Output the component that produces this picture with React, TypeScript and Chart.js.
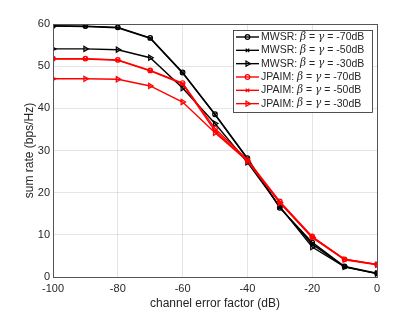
import React, { useEffect, useRef } from "react";
import { Chart, registerables } from "chart.js";
import { drawPoint } from "chart.js/helpers";

Chart.register(...registerables);

const errorFactor = [-100, -90, -80, -70, -60, -50, -40, -30, -20, -10, 0];
const mwsr70 = [59.6, 59.5, 59.2, 56.7, 48.5, 38.6, 28.2, 16.4, 8.2, 2.5, 0.9];
const mwsr50 = [59.5, 59.4, 59.1, 56.6, 48.4, 38.5, 28.0, 16.5, 7.8, 2.4, 0.8];
const mwsr30 = [54.1, 54.1, 53.9, 52.0, 44.8, 36.4, 27.2, 16.7, 7.1, 2.4, 0.8];
const jpaim70 = [51.8, 51.8, 51.5, 49.0, 46.0, 35.2, 27.8, 17.9, 9.6, 4.2, 3.0];
const jpaim50 = [51.7, 51.7, 51.4, 48.9, 45.8, 34.6, 27.6, 17.7, 9.4, 4.2, 3.0];
const jpaim30 = [47.0, 47.0, 46.9, 45.3, 41.5, 34.2, 27.5, 17.6, 9.4, 4.1, 2.9];
const xTicks = [-100, -80, -60, -40, -20, 0];
const yTicks = [0, 10, 20, 30, 40, 50, 60];

const seriesNames = ["MWSR", "MWSR", "MWSR", "JPAIM", "JPAIM", "JPAIM"];
const seriesLevels = ["-70dB", "-50dB", "-30dB", "-70dB", "-50dB", "-30dB"];

const AX = "#262626";
const FONT = "'Liberation Sans', Arial, sans-serif";

export default function App() {
  const ref = useRef<HTMLCanvasElement | null>(null);
  useEffect(() => {
    const canvas = ref.current!;
    const values = [mwsr70, mwsr50, mwsr30, jpaim70, jpaim50, jpaim30];
    const colors = ["#000000", "#000000", "#000000", "#ff0000", "#ff0000", "#ff0000"];
    const styles: any[] = ["circle", "crossRot", "triangle", "circle", "crossRot", "triangle"];
    const rot = [0, 0, 90, 0, 0, 90];
    const radius = [2.3, 2.5, 3, 2.3, 2.5, 3];

    const datasets = values.map((v, i) => ({
      label: seriesNames[i] + " " + seriesLevels[i],
      data: v.map((y, j) => ({ x: errorFactor[j], y })),
      borderColor: colors[i],
      backgroundColor: "rgba(0,0,0,0)",
      borderWidth: 1.4,
      pointStyle: styles[i],
      pointRotation: rot[i],
      pointRadius: radius[i],
      pointBorderColor: colors[i],
      pointBackgroundColor: "rgba(0,0,0,0)",
      pointBorderWidth: 1.2,
      tension: 0,
      order: 10 - i,
    }));

    const decor = {
      id: "decor",
      afterDraw(chart: any) {
        const ctx: CanvasRenderingContext2D = chart.ctx;
        const a = chart.chartArea;
        ctx.save();
        ctx.strokeStyle = "#555555";
        ctx.lineWidth = 1;
        ctx.strokeRect(Math.round(a.left) + 0.5, Math.round(a.top) + 0.5, Math.round(a.right - a.left), Math.round(a.bottom - a.top));
        // axis titles
        ctx.fillStyle = AX;
        ctx.font = "12px " + FONT;
        ctx.textAlign = "center";
        ctx.textBaseline = "middle";
        ctx.fillText("channel error factor (dB)", (a.left + a.right) / 2, 304);
        ctx.save();
        ctx.translate(30, (a.top + a.bottom) / 2);
        ctx.rotate(-Math.PI / 2);
        ctx.fillText("sum rate (bps/Hz)", 0, 0);
        ctx.restore();

        // legend
        const lx = 233.5, ly = 30.5, lw = 139, lh = 82;
        ctx.fillStyle = "#ffffff";
        ctx.fillRect(lx, ly, lw, lh);
        ctx.strokeStyle = AX;
        ctx.lineWidth = 0.8;
        ctx.strokeRect(lx, ly, lw, lh);
        for (let i = 0; i < 6; i++) {
          const cy = 37 + i * 13.33;
          ctx.strokeStyle = colors[i];
          ctx.lineWidth = 1.4;
          ctx.beginPath();
          ctx.moveTo(236, cy);
          ctx.lineTo(259, cy);
          ctx.stroke();
          ctx.save();
          ctx.strokeStyle = colors[i];
          ctx.fillStyle = "rgba(0,0,0,0)";
          ctx.lineWidth = 1.2;
          drawPoint(ctx, { pointStyle: styles[i], rotation: rot[i], radius: radius[i], borderWidth: 1.2 } as any, 247.5, cy);
          ctx.restore();
          // text
          ctx.fillStyle = AX;
          ctx.textAlign = "left";
          ctx.textBaseline = "middle";
          let x = 261;
          const pieces: [string, string][] = [
            [seriesNames[i] + ": ", "10.5px " + FONT],
            ["\u03b2", "italic 10.5px 'DejaVu Serif', serif"],
            [" = ", "10.5px " + FONT],
            ["\u03b3", "italic 10.5px 'DejaVu Serif', serif"],
            [" = " + seriesLevels[i], "10.5px " + FONT],
          ];
          for (const [t, f] of pieces) {
            ctx.font = f;
            ctx.fillText(t, x, cy);
            x += ctx.measureText(t).width;
          }
        }
        ctx.restore();
      },
    };

    const chart = new Chart(canvas, {
      type: "line",
      data: { datasets: datasets as any },
      options: {
        animation: false,
        responsive: false,
        layout: { padding: { top: 24, right: 38, left: 0, bottom: 0 } },
        plugins: { legend: { display: false }, tooltip: { enabled: false } },
        scales: {
          x: {
            type: "linear",
            min: -100,
            max: 0,
            afterBuildTicks: (s: any) => { s.ticks = xTicks.map((v) => ({ value: v })); },
            afterFit: (s: any) => { s.height = 35; },
            ticks: { color: AX, padding: 5, font: { size: 11, family: FONT }, maxRotation: 0 },
            grid: { color: "rgba(38,38,38,0.12)", drawTicks: false, tickLength: 0 },
            border: { display: false },
          },
          y: {
            type: "linear",
            min: 0,
            max: 60,
            afterBuildTicks: (s: any) => { s.ticks = yTicks.map((v) => ({ value: v })); },
            afterFit: (s: any) => { s.width = 53; },
            ticks: { color: AX, padding: 3, font: { size: 11, family: FONT } },
            grid: { color: "rgba(38,38,38,0.12)", drawTicks: false, tickLength: 0 },
            border: { display: false },
          },
        },
      },
      plugins: [decor],
    });
    return () => chart.destroy();
  }, []);
  return (
    <div style={{ position: "absolute", left: 0, top: 0, width: 415, height: 312, background: "#fff" }}>
      <canvas ref={ref} width={415} height={312} style={{ width: 415, height: 312, display: "block" }} />
    </div>
  );
}
